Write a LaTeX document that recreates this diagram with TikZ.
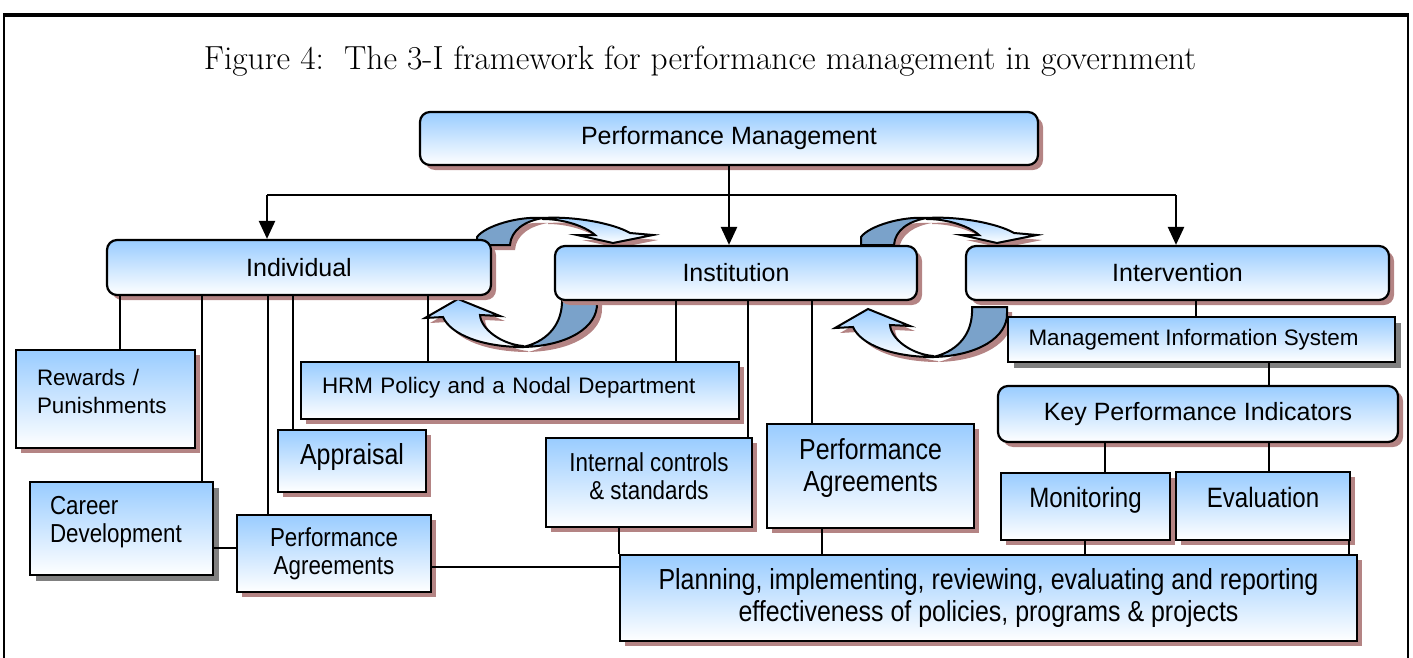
\documentclass[tikz,border=0pt]{standalone}
\usepackage{fontspec}
\newfontfamily\arialfont{Liberation Sans}
\newfontfamily\narrowfont[FakeStretch=0.86]{Liberation Sans}
\usetikzlibrary{arrows.meta,shadows,positioning}

\definecolor{boxblue}{RGB}{153,204,255}
\definecolor{backblue}{RGB}{122,162,202}
\definecolor{shadowred}{RGB}{180,132,132}
\definecolor{shadowgray}{RGB}{128,128,128}

\tikzset{
  redshadow/.style={drop shadow={shadow xshift=2.5pt,shadow yshift=-2.5pt,fill=shadowred,opacity=1}},
  grayshadow/.style={drop shadow={shadow xshift=3pt,shadow yshift=-3pt,fill=shadowgray,opacity=1}},
  sqbox/.style={draw,line width=1.1pt,top color=boxblue,bottom color=white,inner sep=0pt},
  rbox/.style={sqbox,rounded corners=5pt},
  wh/.style 2 args={minimum width=#1*0.5pt,minimum height=#2*0.5pt},
  big/.style={font=\arialfont\fontsize{12.5}{15}\selectfont},
  small/.style={font=\arialfont\fontsize{11.2}{14}\selectfont},
  narrow/.style={font=\narrowfont\fontsize{13}{14}\selectfont},
  narrowmid/.style={font=\narrowfont\fontsize{14}{15}\selectfont},
  narrowbig/.style={font=\narrowfont\fontsize{14.5}{16}\selectfont},
  link/.style={line width=1pt},
  bus/.style={line width=1.2pt,-{Triangle[length=9pt,width=8pt]}},
  pics/toparrow/.style={code={
    \path[draw,line width=1pt,fill=backblue,redshadow] (-66,19) .. controls (-58,8) and (-25,-2) .. (0,0)
      .. controls (-18,3) and (-32,12) .. (-33,27) -- (-66,27) -- cycle;
    \path[draw,line width=1pt,top color=boxblue,bottom color=white,redshadow] (0,0) .. controls (30,-2) and (70,5) .. (87,15)
      -- (110,17) -- (70,25) -- (34,17) -- (52,17) .. controls (42,8) and (20,1) .. (0,1) -- cycle;
  }},
  pics/botarrow/.style={code={
    \path[draw,line width=1pt,fill=backblue,redshadow] (74,-50) -- (74,-44) .. controls (75,-20) and (45,-1) .. (0,0)
      .. controls (22,-5) and (38,-20) .. (39,-44) -- (39,-50) -- cycle;
    \path[draw,line width=1pt,top color=boxblue,bottom color=white,redshadow] (0,0) .. controls (-40,0) and (-72,-12) .. (-80,-30)
      -- (-98,-29) -- (-65,-48) -- (-23,-31) -- (-43,-32) .. controls (-42,-18) and (-22,-3) .. (0,-1) -- cycle;
  }}
}

\begin{document}
\begin{tikzpicture}[x=0.5pt,y=-0.5pt]
  \useasboundingbox (0,0) rectangle (1413,658);
  % frame and title
  \draw[line width=1pt] (4,664) -- (4,15) -- (1408,15) -- (1408,664);
  \draw[line width=2pt] (3,15) -- (1409,15);
  \node (title) at (700,61) {\fontsize{16.7}{20}\selectfont Figure 4:\ \ The 3-I framework for performance management in government};

  % cycle arrows
  \pic at (543,218) {toparrow};
  \pic at (523,347) {botarrow};
  \pic at (927,218) {toparrow};
  \pic at (933,357) {botarrow};

  % boxes
  \node[rbox,redshadow,wh={618}{53},big] (pm) at (729,138.5) {Performance Management};
  \node[rbox,redshadow,wh={384}{55},big] (ind) at (299,267.5) {Individual};
  \node[rbox,redshadow,wh={362}{54},big] (inst) at (736,273) {Institution};
  \node[rbox,redshadow,wh={423}{54},big] (intv) at (1177.5,273) {Intervention};

  \node[sqbox,redshadow,wh={179}{98},
    label={[small,align=left,text width=68.5pt,yshift=4pt]center:Rewards /\\Punishments}] (rew) at (105.5,399) {};
  \node[sqbox,redshadow,wh={438}{57},
    label={[small,align=left,text width=198pt,yshift=1.5pt]center:HRM Policy and a Nodal Department}] (hrm) at (520,390.5) {};
  \node[sqbox,redshadow,wh={148}{62},
    label={[narrowbig,yshift=2pt]center:Appraisal}] (appr) at (352,461) {};
  \node[sqbox,grayshadow,wh={183}{93},
    label={[narrow,align=left,text width=71.5pt,yshift=3pt]center:Career\\Development}] (cd) at (121.5,528.5) {};
  \node[sqbox,redshadow,wh={194}{77},narrow,align=center] (pal) at (334,553.5) {Performance\\Agreements};
  \node[sqbox,redshadow,wh={206}{89},
    label={[narrow,align=center,yshift=3pt]center:Internal controls\\\& standards}] (ics) at (649,482.5) {};
  \node[sqbox,redshadow,wh={207}{104},
    label={[narrowbig,align=center,yshift=4pt]center:Performance\\Agreements}] (pam) at (870.5,476) {};

  \node[sqbox,grayshadow,line width=0.8pt,wh={387}{45},
    label={[small,xshift=-4pt]center:Management Information System}] (mis) at (1201.5,339.5) {};
  \node[rbox,redshadow,wh={400}{56},big] (kpi) at (1198,414) {Key Performance Indicators};
  \node[sqbox,redshadow,wh={169}{67},
    label={[narrowmid,yshift=3pt]center:Monitoring}] (mon) at (1085.5,506.5) {};
  \node[sqbox,redshadow,wh={174}{68},
    label={[narrowmid,yshift=4.5pt]center:Evaluation}] (eva) at (1263,506) {};
  \node[sqbox,redshadow,wh={737}{86},narrowbig,align=center] (plan) at (988.5,598)
    {Planning, implementing, reviewing, evaluating and reporting\\effectiveness of policies, programs \& projects};

  % top level arrows
  \coordinate (busL) at (267,195);
  \coordinate (busR) at (1176,195);
  \draw[link] (busL) -- (busR);
  \draw[bus] (pm.south) -- (pm.south |- inst.north);
  \draw[bus] (busL) -- (busL |- ind.north);
  \draw[bus] (busR) -- (busR |- intv.north);

  % links
  \foreach \x/\t in {120/rew,202/cd,268/pal,293/appr,428/hrm}
    \draw[link] (\x,0 |- ind.south) -- (\x,0 |- \t.north);
  \foreach \x/\t in {676/hrm,748/ics,812/pam}
    \draw[link] (\x,0 |- inst.south) -- (\x,0 |- \t.north);
  \draw[link] (1196,0 |- intv.south) -- (1196,0 |- mis.north);
  \draw[link] (1269,0 |- mis.south) -- (1269,0 |- kpi.north);
  \draw[link] (1105,0 |- kpi.south) -- (1105,0 |- mon.north);
  \draw[link] (1269,0 |- kpi.south) -- (1269,0 |- eva.north);
  \draw[link] (plan.north west) -- (plan.north west |- ics.south);
  \foreach \x/\t in {822/pam,1085/mon,1349/eva}
    \draw[link] (\x,0 |- \t.south) -- (\x,0 |- plan.north);
  \draw[link] (cd.east |- 0,548) -- (pal.west |- 0,548);
  \draw[link] (pal.east |- 0,567) -- (plan.west |- 0,567);
\end{tikzpicture}
\end{document}
